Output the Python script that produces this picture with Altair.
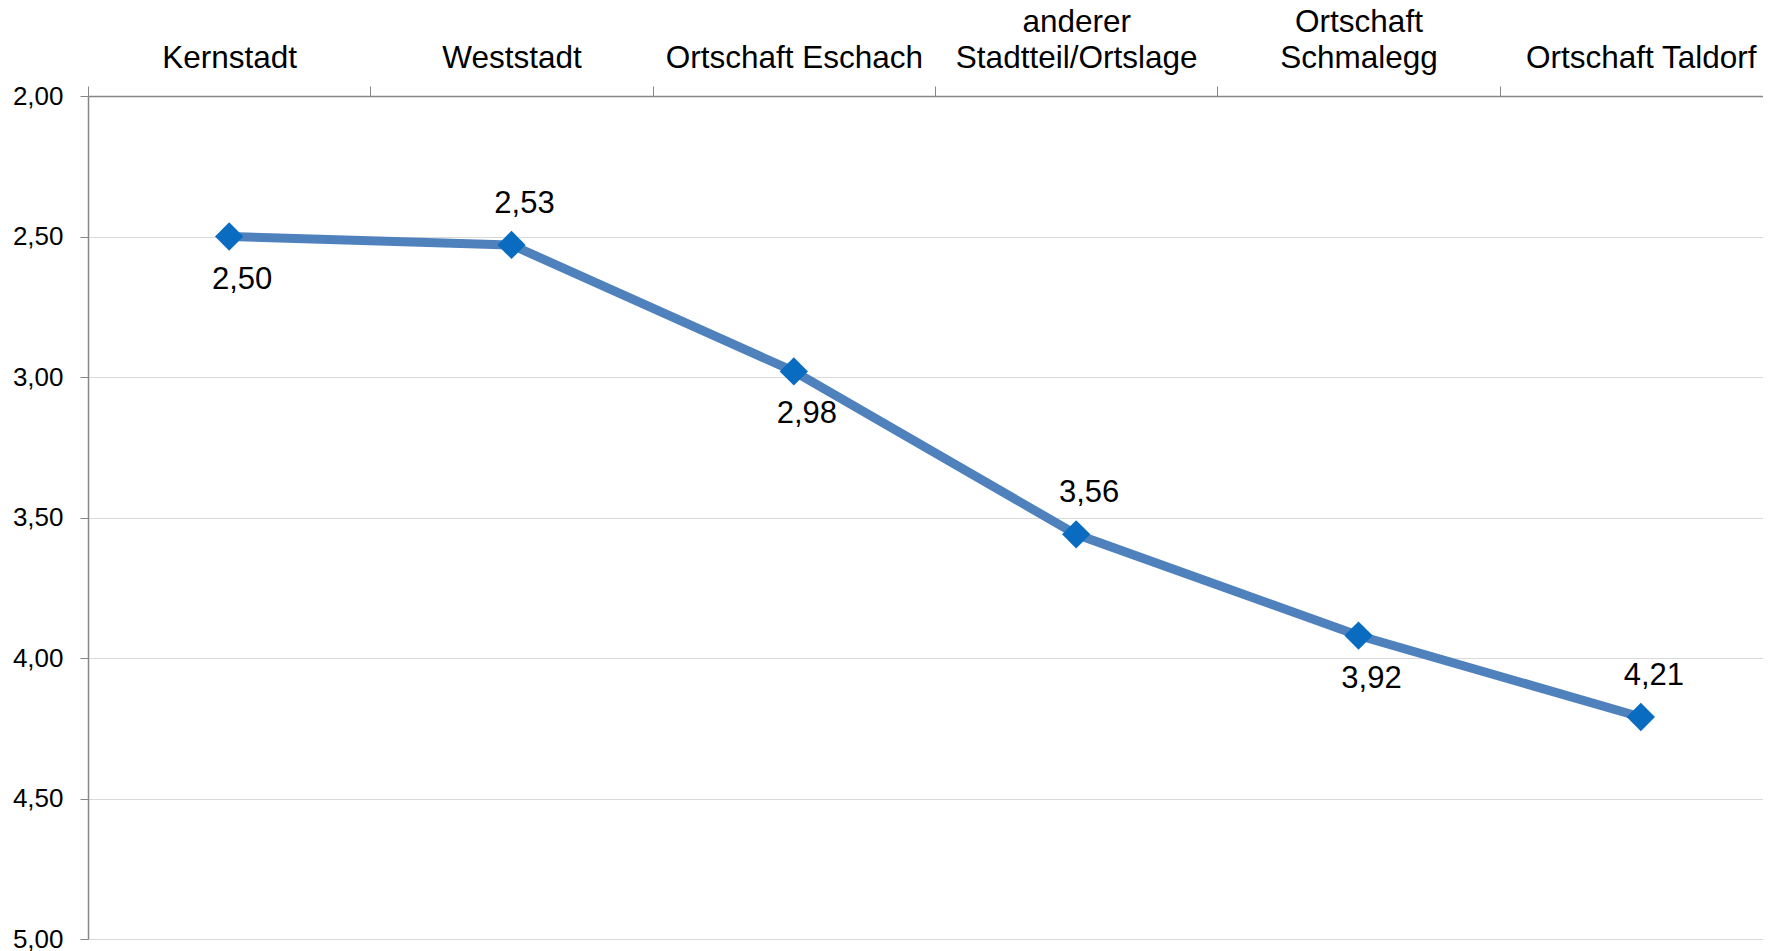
import altair as alt
import pandas as pd

categories = [
    "Kernstadt",
    "Weststadt",
    "Ortschaft Eschach",
    "anderer\nStadtteil/Ortslage",
    "Ortschaft\nSchmalegg",
    "Ortschaft Taldorf",
]
values = [2.50, 2.53, 2.98, 3.56, 3.92, 4.21]
y_ticks = [2.0, 2.5, 3.0, 3.5, 4.0, 4.5, 5.0]

df = pd.DataFrame({"Ort": categories, "Wert": values})

FONT = "Liberation Sans"
AXIS_GREY = "#868686"
GRID_GREY = "#d9d9d9"

x_enc = alt.X(
    "Ort:N",
    sort=categories,
    bandPosition=0.5,
    scale=alt.Scale(type="band", range=[0, 1694], paddingInner=0, paddingOuter=0),
    axis=alt.Axis(
        orient="top",
        title=None,
        tickBand="extent",
        labelAngle=0,
        labelFont=FONT,
        labelFontSize=31.5,
        labelColor="#000000",
        labelLineHeight=36,
        labelPadding=48,
        labelLimit=0,
        labelExpr="indexof(datum.label, '\\n') >= 0 ? split(datum.label, '\\n') : ['', datum.label]",
        tickSize=10,
        tickColor=AXIS_GREY,
        domainColor=AXIS_GREY,
        domainWidth=1.5,
        grid=False,
    ),
)

y_enc = alt.Y(
    "Wert:Q",
    scale=alt.Scale(domain=[2, 5], reverse=True, nice=False, zero=False),
    axis=alt.Axis(
        title=None,
        values=y_ticks,
        labelExpr="replace(format(datum.value, '.2f'), '.', ',')",
        labelFont=FONT,
        labelFontSize=26,
        labelColor="#000000",
        labelPadding=17,
        tickSize=8,
        tickColor=AXIS_GREY,
        domainColor=AXIS_GREY,
        domainWidth=1.5,
        grid=True,
        gridColor=GRID_GREY,
        gridWidth=1.2,
    ),
)

base = alt.Chart(df).encode(x=x_enc, y=y_enc)

line = base.mark_line(color="#4f81bd", strokeWidth=9)
points = base.mark_point(shape="diamond", filled=True, size=800, color="#0a6cc0", opacity=1)

labelled = base.transform_window(idx="row_number()").transform_calculate(
    txt="replace(format(datum.Wert, '.2f'), '.', ',')"
)

below = labelled.transform_filter("datum.idx % 2 == 1").mark_text(
    font=FONT, fontSize=31, color="#000000", dx=13, dy=43, baseline="middle", align="center"
).encode(text="txt:N")

above = labelled.transform_filter("datum.idx % 2 == 0").mark_text(
    font=FONT, fontSize=31, color="#000000", dx=13, dy=-41, baseline="middle", align="center"
).encode(text="txt:N")

chart = (
    alt.layer(line, points, below, above)
    .properties(
        width=1675,
        height=843,
        autosize=alt.AutoSizeParams(type="none"),
        padding={"left": 80, "top": 88, "right": 0, "bottom": 14},
        background="#ffffff",
    )
    .configure_view(strokeWidth=0)
)

chart.save("out.html", embed_options={"renderer": "svg", "actions": False})
